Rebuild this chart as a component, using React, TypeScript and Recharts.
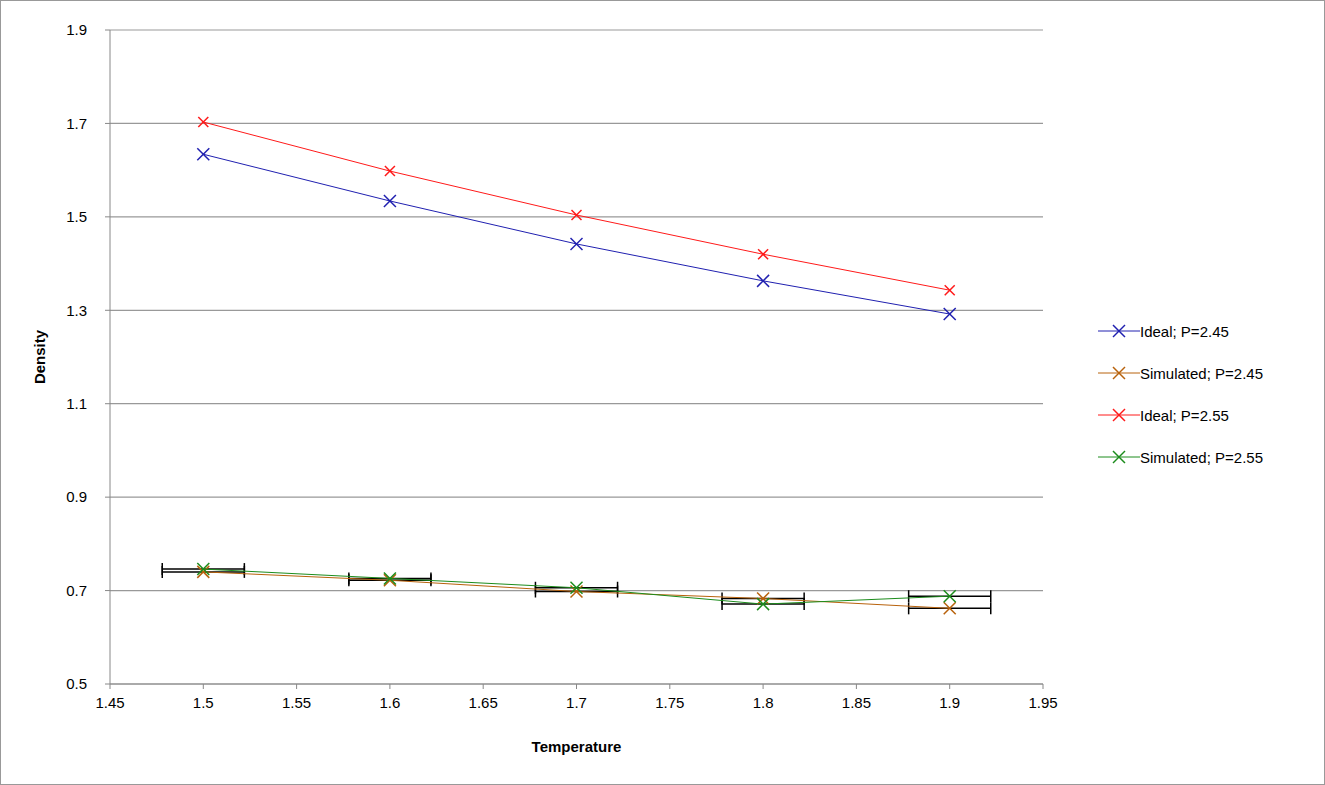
import { ScatterChart, Scatter, XAxis, YAxis, CartesianGrid, ErrorBar, Label } from 'recharts'

const temps = [1.5, 1.6, 1.7, 1.8, 1.9]
const ideal245 = [1.634, 1.534, 1.442, 1.363, 1.292]
const ideal255 = [1.703, 1.598, 1.504, 1.42, 1.343]
const sim245 = [0.74, 0.722, 0.698, 0.683, 0.662]
const sim255 = [0.746, 0.726, 0.706, 0.671, 0.688]
const tempErr = [0.022, 0.022, 0.022, 0.022, 0.022]

const xTicks = [1.45, 1.5, 1.55, 1.6, 1.65, 1.7, 1.75, 1.8, 1.85, 1.9, 1.95]
const yTicks = [0.5, 0.7, 0.9, 1.1, 1.3, 1.5, 1.7, 1.9]

const build = (ys: number[], err: boolean) =>
  temps.map((t, i) => ({ x: t, y: ys[i], ex: err ? tempErr[i] : 0 }))

const series = [
  { name: 'Ideal; P=2.45', color: '#2020b0', data: build(ideal245, false), err: false, size: 6 },
  { name: 'Simulated; P=2.45', color: '#b8620c', data: build(sim245, true), err: true, size: 6 },
  { name: 'Ideal; P=2.55', color: '#ff1a1a', data: build(ideal255, false), err: false, size: 5 },
  { name: 'Simulated; P=2.55', color: '#1c8c1c', data: build(sim255, true), err: true, size: 6 },
]

const cross = (color: string, s: number) => (props: any) => {
  const { cx, cy } = props
  return (
    <g stroke={color} strokeWidth={1.5}>
      <line x1={cx - s} y1={cy - s} x2={cx + s} y2={cy + s} />
      <line x1={cx - s} y1={cy + s} x2={cx + s} y2={cy - s} />
    </g>
  )
}

export default function App() {
  return (
    <div style={{ position: 'absolute', left: 0, top: 0, width: 1325, height: 785, background: '#fff', fontFamily: 'Arial, Liberation Sans, sans-serif' }}>
      <div style={{ position: 'absolute', left: 0, top: 0, width: 1323, height: 783, border: '1px solid #999' }} />
      <ScatterChart width={1325} height={785} margin={{ top: 30, right: 282, bottom: 71, left: 50 }}>
        <CartesianGrid vertical={false} stroke="#999" strokeWidth={1.2} />
        <XAxis type="number" dataKey="x" domain={[1.45, 1.95]} ticks={xTicks} stroke="#888"
          tick={{ fill: '#000', fontSize: 15 }} tickLine={{ stroke: '#888' }} tickSize={5} tickMargin={8}>
          <Label value="Temperature" position="insideBottom" offset={-38} style={{ fontWeight: 'bold', fontSize: 15, fill: '#000' }} />
        </XAxis>
        <YAxis type="number" dataKey="y" domain={[0.5, 1.9]} ticks={yTicks} stroke="#888" width={60}
          tick={{ fill: '#000', fontSize: 15 }} tickLine={{ stroke: '#888' }} tickSize={5} tickMargin={18}
          tickFormatter={(v) => String(v)}>
          <Label value="Density" angle={-90} position="insideLeft" offset={-10} style={{ fontWeight: 'bold', fontSize: 15, fill: '#000', textAnchor: 'middle' }} />
        </YAxis>
        {series.map((s) => (
          <Scatter key={s.name} name={s.name} data={s.data} line={{ stroke: s.color, strokeWidth: 1 }}
            shape={cross(s.color, s.size)} isAnimationActive={false}>
            {s.err && <ErrorBar dataKey="ex" direction="x" stroke="#000" strokeWidth={1.5} width={6} />}
          </Scatter>
        ))}
      </ScatterChart>
      <div style={{ position: 'absolute', left: 1098, top: 310, fontSize: 15 }}>
        {series.map((s) => (
          <div key={s.name} style={{ display: 'flex', alignItems: 'center', height: 42 }}>
            <svg width={42} height={14}>
              <line x1={0} y1={7} x2={42} y2={7} stroke={s.color} strokeWidth={1} />
              <line x1={15} y1={1} x2={27} y2={13} stroke={s.color} strokeWidth={1.5} />
              <line x1={15} y1={13} x2={27} y2={1} stroke={s.color} strokeWidth={1.5} />
            </svg>
            <span>{s.name}</span>
          </div>
        ))}
      </div>
    </div>
  )
}
